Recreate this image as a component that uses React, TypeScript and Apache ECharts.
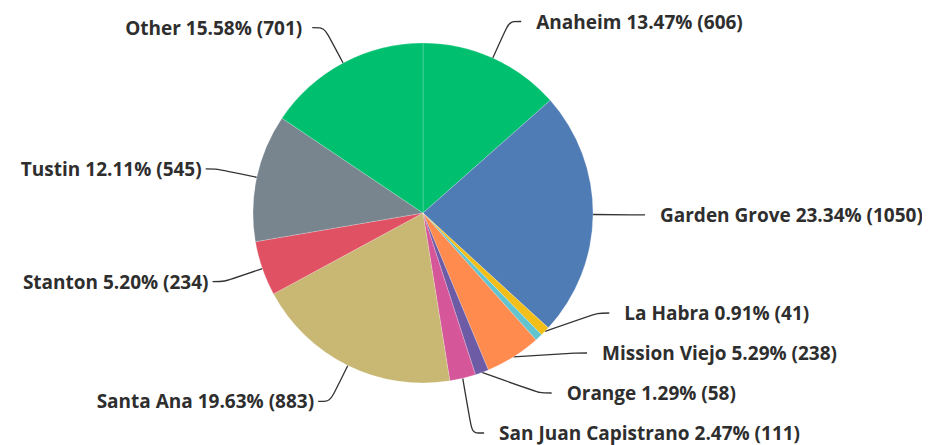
import React, { useEffect, useRef } from "react";
import * as echarts from "echarts";

const categories = [
  "Anaheim",
  "Garden Grove",
  "La Habra",
  "Los Alamitos",
  "Mission Viejo",
  "Orange",
  "San Juan Capistrano",
  "Santa Ana",
  "Stanton",
  "Tustin",
  "Other",
];
const counts = [606, 1050, 41, 32, 238, 58, 111, 883, 234, 545, 701];
const percents = [13.47, 23.34, 0.91, 0.71, 5.29, 1.29, 2.47, 19.63, 5.2, 12.11, 15.58];
const hiddenLabels = ["Los Alamitos"];
const topLabels = ["Anaheim", "Other"];
const leftLabels = ["Santa Ana", "Stanton", "Tustin"];
const crowdedLabels = ["La Habra", "Mission Viejo", "Orange", "San Juan Capistrano"];
const colors = [
  "#00BF6F",
  "#507CB6",
  "#F2BE1A",
  "#62C4CE",
  "#FF8B4F",
  "#6E5BA6",
  "#D6569A",
  "#C8B874",
  "#E05263",
  "#78848E",
  "#00BF6F",
];

const FONT = "Open Sans";
const TEXT_COLOR = "#2e2e2e";
const LINE_COLOR = "#333333";

function buildData(crowdedPass: boolean) {
  return categories.map((name, i) => {
    const hidden = hiddenLabels.includes(name);
    const crowded = crowdedLabels.includes(name);
    const show = !hidden && (crowdedPass ? crowded : !crowded);
    const isTop = topLabels.includes(name);
    const isLeft = leftLabels.includes(name);
    return {
      name,
      value: counts[i],
      pct: percents[i],
      itemStyle: crowdedPass
        ? { color: "rgba(0,0,0,0)", borderWidth: 0 }
        : { color: colors[i] },
      label: {
        show,
        padding: isTop ? 0 : [12, 0, 0, 0],
        lineHeight: crowded ? 26 : 22,
        distanceToLabelLine: isLeft ? 4 : name === "Other" ? 10 : 15,
      },
      labelLine: { show },
    };
  });
}

export default function App() {
  const ref = useRef<HTMLDivElement>(null);
  useEffect(() => {
    if (!ref.current) return;
    const chart = echarts.init(ref.current, undefined, { renderer: "svg" });
    const common = {
      type: "pie",
      center: [415, 205],
      radius: 170,
      startAngle: 90,
      clockwise: true,
      label: {
        show: true,
        position: "outside",
        formatter: (p: any) => `${p.name} ${p.data.pct.toFixed(2)}% (${p.value})`,
        fontFamily: FONT,
        fontWeight: "bold",
        fontSize: 19,
        color: TEXT_COLOR,
        opacity: 1,
        bleedMargin: 0,
      },
      labelLine: {
        show: true,
        length: 40,
        length2: 12,
        smooth: 0.3,
        lineStyle: { color: LINE_COLOR, width: 1.3, opacity: 1 },
      },
      emphasis: { disabled: true },
    };
    chart.setOption({
      animation: false,
      backgroundColor: "#ffffff",
      series: [
        {
          ...common,
          data: buildData(false),
          itemStyle: { borderColor: "rgba(255,255,255,0.35)", borderWidth: 0.6 },
        },
        {
          ...common,
          silent: true,
          top: 0,
          left: 0,
          width: 922,
          height: 445,
          data: buildData(true),
        },
      ],
    });
    return () => chart.dispose();
  }, []);
  return <div ref={ref} style={{ width: 922, height: 437 }} />;
}
